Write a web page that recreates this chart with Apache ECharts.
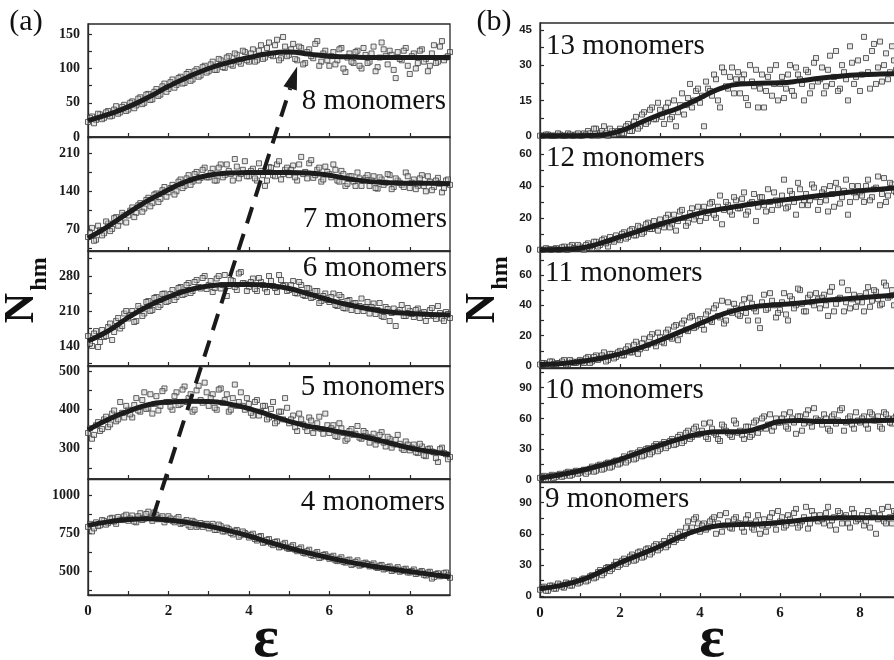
<!DOCTYPE html>
<html><head><meta charset="utf-8">
<script src="https://cdn.jsdelivr.net/npm/echarts@6/dist/echarts.min.js"></script>
<style>html,body{margin:0;padding:0;background:#fff}#c{width:894px;height:660px}</style>
</head><body><div id="c"></div><script>
// ---------- data ----------
const xScatter = [0,0.1,0.2,0.3,0.4,0.5,0.6,0.7,0.8,0.9,1,1.1,1.2,1.3,1.4,1.5,1.6,1.7,1.8,1.9,2,2.1,2.2,2.3,2.4,2.5,2.6,2.7,2.8,2.9,3,3.1,3.2,3.3,3.4,3.5,3.6,3.7,3.8,3.9,4,4.1,4.2,4.3,4.4,4.5,4.6,4.7,4.8,4.9,5,5.1,5.2,5.3,5.4,5.5,5.6,5.7,5.8,5.9,6,6.1,6.2,6.3,6.4,6.5,6.6,6.7,6.8,6.9,7,7.1,7.2,7.3,7.4,7.5,7.6,7.7,7.8,7.9,8,8.1,8.2,8.3,8.4,8.5,8.6,8.7,8.8,8.9,9];
const xScatter2 = [0.05,0.15,0.25,0.35,0.45,0.55,0.65,0.75,0.85,0.95,1.05,1.15,1.25,1.35,1.45,1.55,1.65,1.75,1.85,1.95,2.05,2.15,2.25,2.35,2.45,2.55,2.65,2.75,2.85,2.95,3.05,3.15,3.25,3.35,3.45,3.55,3.65,3.75,3.85,3.95,4.05,4.15,4.25,4.35,4.45,4.55,4.65,4.75,4.85,4.95,5.05,5.15,5.25,5.35,5.45,5.55,5.65,5.75,5.85,5.95,6.05,6.15,6.25,6.35,6.45,6.55,6.65,6.75,6.85,6.95,7.05,7.15,7.25,7.35,7.45,7.55,7.65,7.75,7.85,7.95,8.05,8.15,8.25,8.35,8.45,8.55,8.65,8.75,8.85,8.95];
const xFit = [0,0.5,1,1.5,2,2.5,3,3.5,4,4.5,5,5.5,6,6.5,7,7.5,8,8.5,9];

const scat8 = [22,30,25,33,28,38,31,45,36,47, 40,52,46,58,50,63,55,70,62,78, 70,84,76,88,79,95,84,99,90,104, 96,110,98,112,101,118,104,120,107,124, 110,128,112,134,116,138,118,142,115,132, 120,136,112,130,108,128,115,140,110,126, 104,124,112,130,95,122,108,126,100,120, 110,132,102,138,118,126,98,124,112,130, 92,122,108,128,114,104,134,110,140,116, 124];
const scat8b = [28,20,34,26,36,30,40,34,44,38, 50,42,56,48,62,54,66,60,74,66, 80,72,86,78,92,82,96,88,102,94, 106,98,114,102,116,106,122,110,126,112, 122,110,126,114,130,120,134,112,146,118, 128,114,132,106,124,118,136,104,122,112, 118,106,128,100,116,110,124,104,130,108, 122,96,116,128,106,120,86,114,126,104, 118,100,126,110,96,122,108,132,112,118];
const scat7 = [55,72,50,68,62,80,70,92,84,96, 95,110,100,118,108,128,118,136,126,148, 138,152,140,162,150,170,158,176,165,184, 166,182,160,190,170,178,160,186,172,196, 168,182,160,178,150,185,170,190,162,180, 170,188,160,204,176,192,165,180,158,186, 172,190,160,178,150,168,158,175,150,165, 150,168,145,162,156,170,148,160,152,175, 146,162,150,170,140,158,148,165,138,160, 152];
const scat7b = [62,48,76,58,84,66,90,76,100,82, 104,92,114,102,124,112,134,120,142,130, 146,134,158,146,164,152,172,160,180,166, 174,160,184,166,190,172,200,164,180,168, 178,164,192,170,160,184,168,196,172,184, 180,166,190,172,164,198,170,184,162,176, 166,180,158,172,154,168,150,164,160,170, 160,146,166,152,172,144,164,156,148,168, 156,144,164,150,168,142,160,154,146,162];
const scat6 = [160,140,170,148,158,178,152,190,175,205, 195,210,190,215,205,230,212,238,222,245, 230,252,238,258,244,266,250,272,255,280, 262,248,275,255,282,260,270,252,288,265, 258,275,250,268,255,280,260,248,272,262, 252,270,245,262,240,255,238,250,230,245, 228,245,220,238,215,232,225,210,235,218, 205,225,212,200,218,190,215,208,222,200, 210,198,215,205,190,212,200,220,195,208, 196];
const scat6b = [145,165,138,172,160,185,168,196,180,210, 202,188,220,200,228,210,236,218,244,228, 244,232,256,242,262,246,268,258,276,254, 270,256,280,262,240,272,258,285,266,250, 268,254,276,262,248,270,256,282,260,250, 262,246,268,242,256,236,250,226,240,232, 238,222,242,216,230,212,226,220,210,228, 218,204,226,198,214,206,180,212,200,216, 204,212,196,208,200,216,194,206,190,204];
const scat5 = [340,325,360,345,375,355,390,370,420,380, 400,380,430,395,445,405,390,435,410,455, 420,400,445,415,460,430,395,450,425,470, 410,440,400,455,425,395,430,410,445,400, 415,385,425,395,410,380,420,370,395,430, 365,385,345,375,355,380,340,365,350,390, 340,360,330,352,320,345,335,358,325,340, 315,338,320,342,305,325,310,335,300,318, 295,310,288,305,280,300,290,265,302,285, 278];
const scat5b = [352,335,368,350,382,362,398,375,392,410, 388,412,398,425,402,440,415,398,448,420, 408,435,412,452,420,440,400,462,418,445, 430,405,452,418,440,400,465,420,410,430, 392,420,385,410,375,402,365,395,375,405, 375,355,390,362,345,372,352,382,338,360, 352,332,365,340,325,350,338,328,345,330, 328,310,335,315,330,302,322,312,296,310, 302,290,312,282,298,292,275,298,288,272];
const scat4 = [790,760,820,800,830,815,850,810,840,860, 830,865,820,880,845,890,830,870,850,820, 860,830,845,810,825,800,830,790,815,805, 780,810,770,795,760,775,740,770,735,750, 720,745,700,730,690,710,670,695,660,685, 645,670,630,655,615,640,600,625,590,610, 580,600,565,590,555,575,545,570,540,555, 530,550,520,540,515,530,505,525,500,515, 490,510,485,500,470,495,460,485,470,490, 455];
const scat4b = [810,780,795,835,805,845,825,855,835,870, 845,825,860,835,875,850,885,840,860,835, 845,820,855,815,835,790,820,800,790,810, 795,770,805,760,785,750,765,725,760,740, 735,710,725,685,705,680,690,655,675,650, 660,640,645,620,630,605,615,585,605,595, 590,570,580,560,570,540,560,535,550,545, 540,525,535,510,525,500,515,495,510,490, 500,480,495,475,490,450,480,465,485,470];
const scat13 = [0,0,0.5,0,0,0.5,0,1,0,0.5, 0,1,2,0,3,1,4,0,2,1, 3,1,5,2,8,4,10,6,12,7, 11,5,14,8,4,13,9,16,12,19, 14,4,20,17,24,12,27,20,29,24, 18,26,13,23,28,20,12,25,17,30, 22,16,26,19,29,24,15,27,21,33, 24,18,28,22,36,20,27,15,31,25, 19,42,27,36,22,40,30,24,38,28, 25];
const scat13b = [0,0.5,0,0,1,0,0,0.5,0,1, 0,0.5,1,3,0,2,1,3,0.5,2, 1,4,2,6,3,9,5,11,7,14, 8,12,7,15,10,18,13,22,15,20, 17,23,19,26,15,29,21,25,18,27, 24,16,30,21,12,26,19,28,22,15, 25,20,30,17,26,22,28,18,31,23, 29,21,34,25,19,30,24,38,22,32, 26,33,20,39,29,23,35,27,32,24];
const scat12 = [0,0,0.5,0,1,0,2,0,3,1, 2,0,4,1,5,3,7,2,6,9, 6,11,8,13,9,14,11,17,13,15, 19,14,22,16,12,24,20,17,26,21, 18,27,23,30,20,34,25,28,22,31, 26,36,24,30,18,33,28,38,25,31, 29,44,27,35,22,38,31,28,41,33, 30,38,24,35,42,29,37,22,40,33, 36,30,44,33,39,28,45,34,41,36, 38];
const scat12b = [0,1,0,0.5,0,1.5,0,2,1,3, 1,3,2,5,2,6,4,8,5,7, 10,7,12,9,15,10,16,13,18,12, 16,20,14,22,18,25,15,23,19,27, 24,20,29,22,27,16,30,24,33,26, 32,22,29,35,27,33,24,30,36,28, 34,26,37,30,42,28,35,31,39,25, 36,31,40,27,38,33,44,30,36,40, 34,40,31,38,46,35,30,42,37,44];
const scat11 = [1,2,0.5,3,1,2,4,1,3,2, 4,2,6,3,7,5,9,4,8,6, 10,7,13,9,16,11,18,14,21,13, 19,15,24,18,27,21,30,23,33,26, 31,24,36,29,40,32,28,42,35,38, 33,44,30,41,36,25,47,38,43,32, 37,48,30,44,40,50,36,45,42,48, 38,47,33,52,41,45,36,50,44,39, 46,36,52,43,49,40,55,45,50,47, 44];
const scat11b = [2,1,3,1.5,2,3,1,4,2,3, 3,5,2,6,4,7,3,8,5,9, 7,11,9,14,8,15,12,19,15,22, 16,22,19,26,17,28,24,32,25,30, 27,34,30,38,33,43,30,36,41,34, 40,35,45,38,30,42,37,48,40,35, 42,34,46,38,51,41,36,47,40,44, 45,40,49,36,44,55,42,38,47,43, 42,48,39,50,44,41,53,46,40,51];
const scat10 = [2,4,1,5,3,6,4,8,5,9, 7,10,8,13,9,15,11,17,13,19, 16,23,19,26,21,29,24,31,27,35, 30,37,33,40,35,44,38,48,42,52, 45,55,40,50,44,38,52,46,42,55, 48,40,52,44,58,50,62,54,48,60, 56,64,50,60,45,62,55,68,52,60, 58,64,50,62,55,68,48,60,54,66, 56,62,50,64,58,52,66,60,55,62, 58];
const scat10b = [3,1,4,2,5,3,7,4,8,6, 9,6,11,8,14,10,16,12,18,15, 20,17,25,20,27,23,30,25,33,28, 35,31,38,34,42,36,46,40,50,44, 48,42,56,46,40,54,48,44,58,46, 44,52,42,56,46,60,50,64,52,56, 60,52,66,56,62,48,64,56,70,58, 54,60,48,64,58,70,56,62,50,58, 60,54,66,58,62,50,64,56,60,54];
const scat9 = [6,9,5,10,7,11,8,12,10,14, 13,17,15,20,18,25,22,28,26,33, 30,36,33,40,35,43,38,46,42,50, 46,53,49,58,54,62,58,72,66,76, 62,70,66,74,60,78,68,72,65,76, 70,62,78,66,72,60,74,68,80,64, 72,66,78,70,84,68,76,65,82,74, 78,70,86,73,64,80,76,70,84,72, 74,68,82,76,60,78,72,86,70,80, 76];
const scat9b = [8,5,10,7,12,9,13,10,15,12, 16,14,19,17,23,20,27,24,30,28, 34,31,38,34,42,37,45,40,48,44, 50,47,56,52,60,56,66,62,74,70, 68,64,72,76,70,62,80,66,74,70, 66,74,70,64,78,68,62,76,70,82, 76,68,74,80,66,72,86,70,78,72, 74,80,68,76,82,70,78,66,80,74, 78,72,66,80,74,84,70,76,82,72];

const fit8  = [24,33,44,58,74,88,100,109,116,122,124,121,118,117,116,116,116,116,116];
const fit7  = [53,75,100,123,143,160,170,174,175,175,175,174,170,163,158,156,155,155,154];
const fit6  = [150,170,197,220,238,252,260,263,263,261,255,244,232,222,214,208,205,203,202];
const fit5  = [348,375,396,413,420,422,421,415,403,387,370,357,348,338,327,314,301,292,284];
const fit4  = [800,823,838,843,835,818,795,765,730,690,652,617,586,558,535,515,497,478,460];
const fit13 = [0,0,0,0.3,2,5.5,9,12,16,20,22,22.3,22.5,23.3,24.4,25.3,25.9,26.2,26.3];
const fit12 = [0,0.2,1,4,8,12,16,19.5,23,25.5,27.5,29.5,31,32.5,34,35.5,37,38,39];
const fit11 = [1,1.5,3,5,8,12,17,22.5,28,33.5,37.5,39.5,40.5,41.5,43,44,45,46,47];
const fit10 = [2,5,9,14,20,27,34,40,45,47,47,51,57,58,57,57,57.5,58,58.5];
const fit9  = [7,10,15,23,32,40,48,57,64,68,69,69.5,71,73,75,75.5,75.5,75.5,76];

const panelLabels = ['8 monomers','7 monomers','6 monomers','5 monomers','4 monomers',
                     '13 monomers','12 monomers','11 monomers','10 monomers','9 monomers'];
const yMajor = [[0,50,100,150],[70,140,210],[140,210,280],[300,400,500],[500,750,1000],
                [0,15,30,45],[0,20,40,60],[0,20,40,60],[0,30,60,90],[0,30,60,90]];
const yMinor = [[25,75,125],[35,105,175],[105,175,245,315],[250,350,450],[375,625,875],
                [7.5,22.5,37.5],[10,30,50],[10,30,50,70],[15,45,75,105],[15,45,75,105]];
const xMajor = [0,2,4,6,8];
const xTicks = [1,2,3,4,5,6,7,8];
const yRange = [[0,165],[29,241],[100,330],[221,513],[342,1105],
                [-0.55,47.9],[-0.8,70.8],[-1.3,75.8],[-2,109.2],[-1,110]];
// arrow linking the maxima (panel index, x, y)
const arrowFrom = [4, 1.62, 857];
const arrowTo   = [0, 5.2, 103];

// ---------- layout ----------
const scatterSets = [scat8,scat7,scat6,scat5,scat4,scat13,scat12,scat11,scat10,scat9];
const scatterSets2 = [scat8b,scat7b,scat6b,scat5b,scat4b,scat13b,scat12b,scat11b,scat10b,scat9b];
const fitSets = [fit8,fit7,fit6,fit5,fit4,fit13,fit12,fit11,fit10,fit9];
const gridBoxes = [[88,24,362,113],[88,137,362,114],[88,251,362,115],[88,366,362,113],[88,479,362,116],
                   [540,23,360,114],[540,137,360,114],[540,251,360,117],[540,368,360,114],[540,482,360,115]];
const labelPos = [[446,101,'right'],[447,219,'right'],[447,268,'right'],[445,387,'right'],[445,502,'right'],
                  [546,46,'left'],[546,158,'left'],[545,273,'left'],[545,390,'left'],[545,499,'left']];

const AX = '#2a2a2a';
const grids = [], xAxes = [], yAxes = [], series = [];
const scatterStyle = {symbol:'rect', symbolSize:5,
  itemStyle:{color:'rgba(205,205,205,0.6)', borderColor:'#3c3c3c', borderWidth:1}};
for (let i = 0; i < 10; i++) {
  const b = gridBoxes[i];
  const right = i >= 5;
  grids.push({left:b[0], top:b[1], width:b[2], height:b[3], show:true, borderColor:AX, borderWidth:1.3,
              containLabel:false, outerBoundsMode:'none'});
  xAxes.push({gridIndex:i, type:'value', min:0, max:9,
    axisLine:{show:true, onZero:false, lineStyle:{color:AX, width:1.3}},
    axisTick:{show:true, inside:true, length:4, customValues:xTicks, lineStyle:{color:AX, width:1.2}},
    axisLabel:{show:(i===4||i===9), customValues:xMajor, fontFamily:'Liberation Serif', fontWeight:'bold',
               fontSize:15, color:'#1a1a1a', margin:9, formatter:(v)=>String(v)},
    splitLine:{show:false}});
  yAxes.push({gridIndex:i, type:'value', min:yRange[i][0], max:yRange[i][1],
    axisLine:{show:true, onZero:false, lineStyle:{color:AX, width:1.3}},
    axisTick:{show:true, inside:true, length:4, customValues:yMajor[i].concat(yMinor[i]), lineStyle:{color:AX, width:1.2}},
    axisLabel:{show:true, customValues:yMajor[i], formatter:(v)=>String(v),
               fontFamily: right ? 'Liberation Sans' : 'Liberation Serif', fontWeight:'bold',
               fontSize: right ? 11.5 : 14, color:'#1a1a1a', margin:8},
    splitLine:{show:false}});
  series.push(Object.assign({type:'scatter', xAxisIndex:i, yAxisIndex:i, silent:true, z:2,
    data: xScatter.map((x,j)=>[x, scatterSets[i][j]])}, scatterStyle));
  series.push(Object.assign({type:'scatter', xAxisIndex:i, yAxisIndex:i, silent:true, z:2,
    data: xScatter2.map((x,j)=>[x, scatterSets2[i][j]])}, scatterStyle));
  series.push({type:'line', xAxisIndex:i, yAxisIndex:i, silent:true, z:3,
    data: xFit.map((x,j)=>[x, fitSets[i][j]]),
    smooth:0.5, showSymbol:false, symbol:'none',
    lineStyle:{color:'#1c1c1c', width:5}});
}

const graphic = [];
labelPos.forEach((p,i)=>{
  graphic.push({type:'text', id:'lab'+i, x:p[0], y:p[1], z:50,
    style:{text:panelLabels[i], font:'29px "Liberation Serif"', fill:'#111', align:p[2], verticalAlign:'middle'}});
});
graphic.push({type:'text', id:'pa', x:26, y:22, z:50, style:{text:'(a)', font:'30px "Liberation Serif"', fill:'#111', align:'center', verticalAlign:'middle'}});
graphic.push({type:'text', id:'pb', x:494, y:22, z:50, style:{text:'(b)', font:'30px "Liberation Serif"', fill:'#111', align:'center', verticalAlign:'middle'}});
[[266,640],[712,640]].forEach((p,k)=>{
  graphic.push({type:'text', id:'eps'+k, x:p[0], y:p[1], z:50, style:{text:'ε', font:'bold 60px "Liberation Serif"', fill:'#111', align:'center', verticalAlign:'middle'}});
});
[[22,308,40,274],[483,308,501,273]].forEach((p,k)=>{
  graphic.push({type:'text', id:'N'+k, x:p[0], y:p[1], rotation:Math.PI/2, z:50, style:{text:'N', font:'bold 42px "Liberation Serif"', fill:'#111', align:'center', verticalAlign:'middle'}});
  graphic.push({type:'text', id:'hm'+k, x:p[2], y:p[3], rotation:Math.PI/2, z:50, style:{text:'hm', font:'bold 24px "Liberation Serif"', fill:'#111', align:'center', verticalAlign:'middle'}});
});

const chart = echarts.init(document.getElementById('c'), null, {renderer:'canvas'});
chart.setOption({backgroundColor:'#fff', animation:false, grid:grids, xAxis:xAxes, yAxis:yAxes, series:series, graphic:graphic});

// dashed arrow between the maxima
const p0 = chart.convertToPixel({xAxisIndex:arrowFrom[0], yAxisIndex:arrowFrom[0]}, [arrowFrom[1], arrowFrom[2]]);
const p1 = chart.convertToPixel({xAxisIndex:arrowTo[0], yAxisIndex:arrowTo[0]}, [arrowTo[1], arrowTo[2]]);
const dx = p1[0]-p0[0], dy = p1[1]-p0[1], L = Math.hypot(dx,dy);
const ux = dx/L, uy = dy/L, px = -uy, py = ux;
const headLen = 23, headHalf = 7;
const bx = p1[0]-ux*headLen, by = p1[1]-uy*headLen;
chart.setOption({graphic:[
  {type:'line', id:'arrowLine', z:60, shape:{x1:p0[0], y1:p0[1], x2:bx, y2:by},
   style:{stroke:'#1a1a1a', lineWidth:4, lineDash:[17,11]}},
  {type:'polygon', id:'arrowHead', z:60, shape:{points:[[p1[0],p1[1]],[bx+px*headHalf,by+py*headHalf],[bx-px*headHalf,by-py*headHalf]]},
   style:{fill:'#1a1a1a'}}
]});
</script></body></html>
